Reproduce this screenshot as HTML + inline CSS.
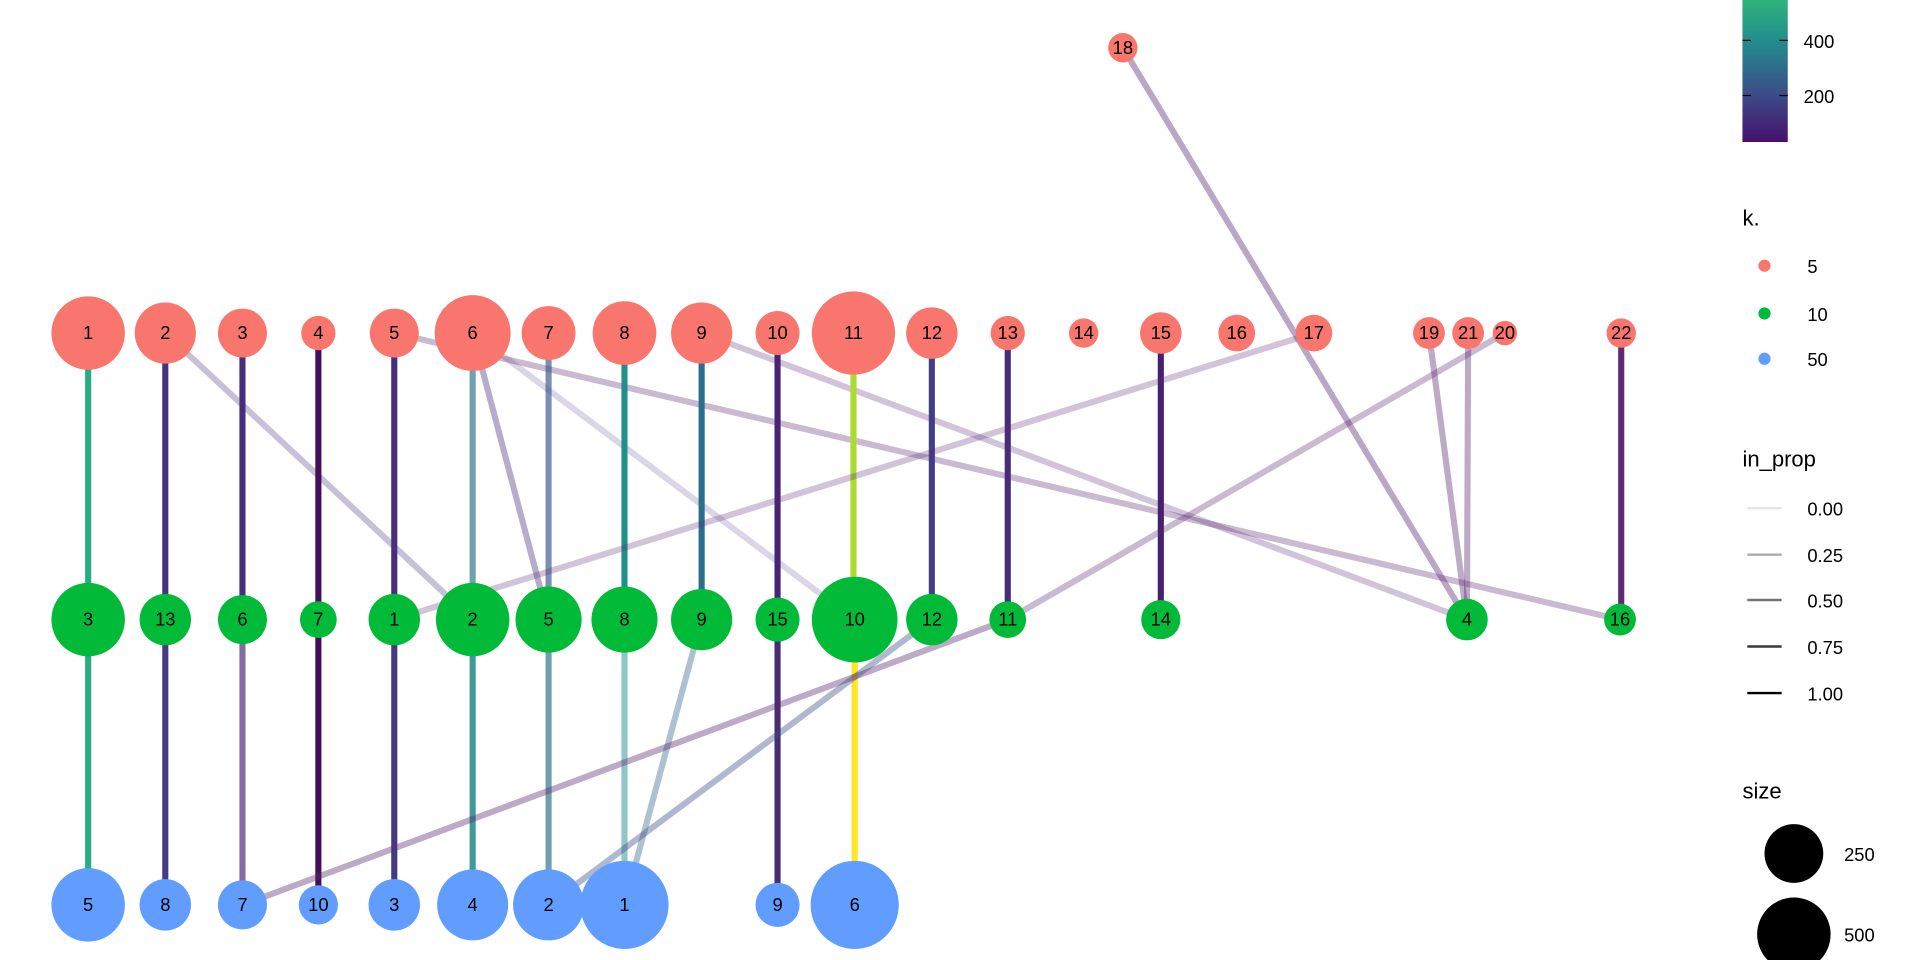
<!DOCTYPE html>
<html><head><meta charset="utf-8"><style>
html,body{margin:0;padding:0;background:#fff;}
svg{display:block;}
text{font-family:"Liberation Sans",sans-serif;}
</style></head><body>
<svg width="1920" height="960" viewBox="0 0 1568 784" xmlns="http://www.w3.org/2000/svg">
<defs>
<linearGradient id="cb" x1="0" y1="1" x2="0" y2="0">
<stop offset="0" stop-color="#46106a"/>
<stop offset="0.35" stop-color="#3b4f8a"/>
<stop offset="0.7" stop-color="#228b8d"/>
<stop offset="1" stop-color="#2eb37c"/>
</linearGradient>
</defs>
<g stroke-width="5" stroke-linecap="butt" fill="none">
<!-- top to mid -->
<line x1="72" y1="272" x2="72" y2="506" stroke="#27ad81"/>
<line x1="135" y1="272" x2="135" y2="506" stroke="#46337e"/>
<line x1="135" y1="272" x2="386" y2="506" stroke="#46337e" stroke-opacity="0.3"/>
<line x1="198" y1="272" x2="198" y2="506" stroke="#472d7b"/>
<line x1="260" y1="272" x2="260" y2="506" stroke="#450e5a"/>
<line x1="322" y1="272" x2="322" y2="506" stroke="#46307e"/>
<line x1="322" y1="272" x2="1323" y2="506" stroke="#5b2a74" stroke-opacity="0.33"/>
<line x1="386" y1="272" x2="386" y2="506" stroke="#31788f" stroke-opacity="0.7"/>
<line x1="386" y1="272" x2="448" y2="506" stroke="#46337e" stroke-opacity="0.4"/>
<line x1="386" y1="272" x2="698" y2="506" stroke="#46337e" stroke-opacity="0.2"/>
<line x1="448" y1="272" x2="448" y2="506" stroke="#34538a" stroke-opacity="0.65"/>
<line x1="510" y1="272" x2="510" y2="506" stroke="#21908d"/>
<line x1="573" y1="272" x2="573" y2="506" stroke="#2c6d8e"/>
<line x1="573" y1="272" x2="1198" y2="506" stroke="#5b2a74" stroke-opacity="0.28"/>
<line x1="635" y1="272" x2="635" y2="506" stroke="#482475"/>
<line x1="697" y1="272" x2="697" y2="506" stroke="#addc30"/>
<line x1="761" y1="272" x2="761" y2="506" stroke="#433e85"/>
<line x1="823" y1="272" x2="823" y2="506" stroke="#472c7a"/>
<line x1="948" y1="272" x2="948" y2="506" stroke="#46206e"/>
<line x1="1073" y1="272" x2="322" y2="506" stroke="#5b2a74" stroke-opacity="0.28"/>
<line x1="917" y1="39" x2="1198" y2="506" stroke="#5b2a74" stroke-opacity="0.42"/>
<line x1="1167" y1="272" x2="1198" y2="506" stroke="#5b2a74" stroke-opacity="0.4"/>
<line x1="1199" y1="272" x2="1198" y2="506" stroke="#5b2a74" stroke-opacity="0.4"/>
<line x1="1229" y1="272" x2="823" y2="506" stroke="#5b2a74" stroke-opacity="0.33"/>
<line x1="1324" y1="272" x2="1324" y2="506" stroke="#5f2a72"/>
<!-- mid to bottom -->
<line x1="72" y1="506" x2="72" y2="739" stroke="#27ad81"/>
<line x1="135" y1="506" x2="135" y2="739" stroke="#443b84"/>
<line x1="198" y1="506" x2="198" y2="739" stroke="#5b3a84" stroke-opacity="0.75"/>
<line x1="260" y1="506" x2="260" y2="739" stroke="#440e5a"/>
<line x1="322" y1="506" x2="322" y2="739" stroke="#443a83"/>
<line x1="386" y1="506" x2="386" y2="739" stroke="#2a8f8d" stroke-opacity="0.9"/>
<line x1="448" y1="506" x2="448" y2="739" stroke="#33758c" stroke-opacity="0.7"/>
<line x1="510" y1="506" x2="510" y2="739" stroke="#21908d" stroke-opacity="0.5"/>
<line x1="573" y1="506" x2="510" y2="739" stroke="#33638d" stroke-opacity="0.4"/>
<line x1="635" y1="506" x2="635" y2="739" stroke="#482c74"/>
<line x1="698" y1="506" x2="698" y2="739" stroke="#fde725"/>
<line x1="761" y1="506" x2="448" y2="739" stroke="#3a4a86" stroke-opacity="0.4"/>
<line x1="823" y1="506" x2="198" y2="739" stroke="#5b2a74" stroke-opacity="0.4"/>
</g>
<g fill="#f8766d">
<circle cx="72" cy="272" r="30"/><circle cx="135" cy="272" r="25"/><circle cx="198" cy="272" r="20"/>
<circle cx="260" cy="272" r="14"/><circle cx="322" cy="272" r="20"/><circle cx="386" cy="272" r="31"/>
<circle cx="448" cy="272" r="22"/><circle cx="510" cy="272" r="26"/><circle cx="573" cy="272" r="25"/>
<circle cx="635" cy="272" r="18"/><circle cx="697" cy="272" r="34"/><circle cx="761" cy="272" r="21"/>
<circle cx="823" cy="272" r="14"/><circle cx="885" cy="272" r="12"/><circle cx="948" cy="272" r="17"/>
<circle cx="1010" cy="272" r="15"/><circle cx="1073" cy="272" r="15"/><circle cx="1167" cy="272" r="13"/>
<circle cx="1199" cy="272" r="13"/><circle cx="1229" cy="272" r="10"/><circle cx="1324" cy="272" r="12"/>
<circle cx="917" cy="39" r="12"/>
</g>
<g fill="#00ba38">
<circle cx="72" cy="506" r="30"/><circle cx="135" cy="506" r="21"/><circle cx="198" cy="506" r="20"/>
<circle cx="260" cy="506" r="15"/><circle cx="322" cy="506" r="21"/><circle cx="386" cy="506" r="30"/>
<circle cx="448" cy="506" r="27"/><circle cx="510" cy="506" r="27"/><circle cx="573" cy="506" r="25"/>
<circle cx="635" cy="506" r="18"/><circle cx="698" cy="506" r="35"/><circle cx="761" cy="506" r="21"/>
<circle cx="823" cy="506" r="15"/><circle cx="948" cy="506" r="16"/><circle cx="1198" cy="506" r="17"/>
<circle cx="1323" cy="506" r="13"/>
</g>
<g fill="#619cff">
<circle cx="72" cy="739" r="30"/><circle cx="135" cy="739" r="21"/><circle cx="198" cy="739" r="20"/>
<circle cx="260" cy="739" r="16"/><circle cx="322" cy="739" r="21"/><circle cx="386" cy="739" r="29"/>
<circle cx="448" cy="739" r="29"/><circle cx="510" cy="739" r="36"/><circle cx="635" cy="739" r="18"/>
<circle cx="698" cy="739" r="36"/>
</g>
<g font-size="15" text-anchor="middle" fill="#000">
<text x="72" y="277">1</text><text x="135" y="277">2</text><text x="198" y="277">3</text><text x="260" y="277">4</text>
<text x="322" y="277">5</text><text x="386" y="277">6</text><text x="448" y="277">7</text><text x="510" y="277">8</text>
<text x="573" y="277">9</text><text x="635" y="277">10</text><text x="697" y="277">11</text><text x="761" y="277">12</text>
<text x="823" y="277">13</text><text x="885" y="277">14</text><text x="948" y="277">15</text><text x="1010" y="277">16</text>
<text x="1073" y="277">17</text><text x="1167" y="277">19</text><text x="1199" y="277">21</text><text x="1229" y="277">20</text>
<text x="1324" y="277">22</text><text x="917" y="44">18</text>
<text x="72" y="511">3</text><text x="135" y="511">13</text><text x="198" y="511">6</text><text x="260" y="511">7</text>
<text x="322" y="511">1</text><text x="386" y="511">2</text><text x="448" y="511">5</text><text x="510" y="511">8</text>
<text x="573" y="511">9</text><text x="635" y="511">15</text><text x="698" y="511">10</text><text x="761" y="511">12</text>
<text x="823" y="511">11</text><text x="948" y="511">14</text><text x="1198" y="511">4</text><text x="1323" y="511">16</text>
<text x="72" y="744">5</text><text x="135" y="744">8</text><text x="198" y="744">7</text><text x="260" y="744">10</text>
<text x="322" y="744">3</text><text x="386" y="744">4</text><text x="448" y="744">2</text><text x="510" y="744">1</text>
<text x="635" y="744">9</text><text x="698" y="744">6</text>
</g>
<!-- legend -->
<rect x="1423" y="0" width="37" height="116" fill="url(#cb)"/>
<g stroke="#000" stroke-width="1">
<line x1="1423" y1="33" x2="1430" y2="33"/><line x1="1453" y1="33" x2="1460" y2="33"/>
<line x1="1423" y1="78" x2="1430" y2="78"/><line x1="1453" y1="78" x2="1460" y2="78"/>
</g>
<g font-size="15" fill="#000">
<text x="1473" y="39">400</text><text x="1473" y="84">200</text>
<text x="1423" y="184" font-size="18">k.</text>
<text x="1476" y="223">5</text><text x="1476" y="262">10</text><text x="1476" y="299">50</text>
<text x="1423" y="381" font-size="18">in_prop</text>
<text x="1476" y="421">0.00</text><text x="1476" y="459">0.25</text><text x="1476" y="496">0.50</text>
<text x="1476" y="534">0.75</text><text x="1476" y="572">1.00</text>
<text x="1423" y="652" font-size="18">size</text>
<text x="1506" y="703">250</text><text x="1506" y="769">500</text>
</g>
<circle cx="1441" cy="217" r="5" fill="#f8766d"/>
<circle cx="1441" cy="256" r="5" fill="#00ba38"/>
<circle cx="1441" cy="293" r="5" fill="#619cff"/>
<g stroke="#000" stroke-width="2">
<line x1="1427" y1="415" x2="1455" y2="415" stroke-opacity="0.1"/>
<line x1="1427" y1="453" x2="1455" y2="453" stroke-opacity="0.33"/>
<line x1="1427" y1="490" x2="1455" y2="490" stroke-opacity="0.55"/>
<line x1="1427" y1="528" x2="1455" y2="528" stroke-opacity="0.78"/>
<line x1="1427" y1="566" x2="1455" y2="566"/>
</g>
<circle cx="1465" cy="697" r="24" fill="#000"/>
<circle cx="1465" cy="763" r="30" fill="#000"/>
</svg>
</body></html>
